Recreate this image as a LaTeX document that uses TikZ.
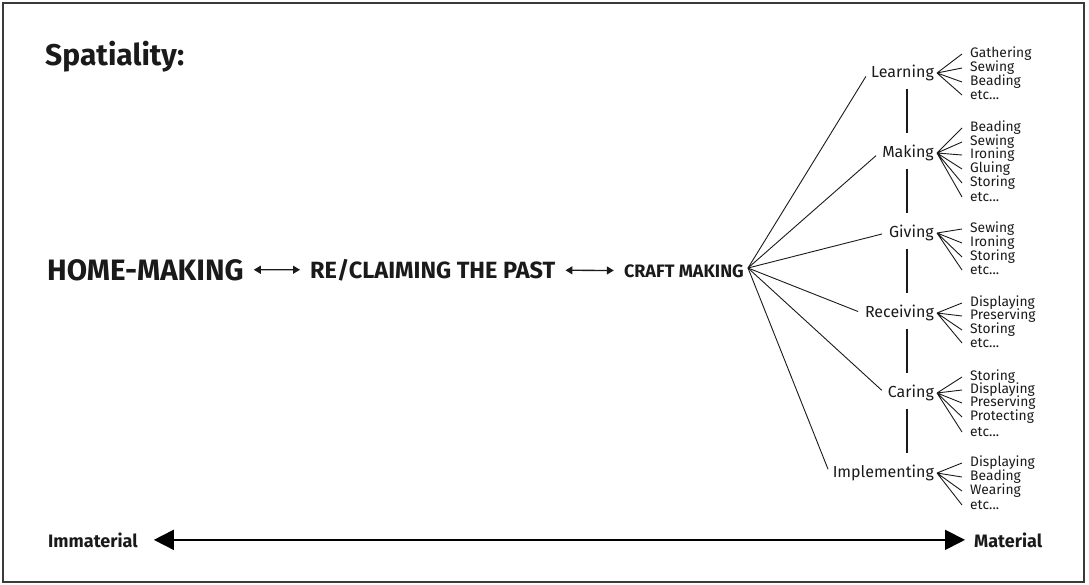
\documentclass[tikz,border=0pt]{standalone}
\usepackage{fontspec}
\setmainfont{Fira Sans}
\usepackage{tikz}
\usetikzlibrary{arrows.meta, positioning, calc}
\definecolor{spframe}{HTML}{3A3A3A}
\definecolor{spink}{HTML}{1A1A1A}

\begin{document}
\begin{tikzpicture}[
      x=1pt, y=-1pt,
      big/.style={inner sep=0pt, text=spink, font=\bfseries\fontsize{#1}{#1}\selectfont},
      cat/.style={anchor=east, inner sep=3pt, text=spink, font=\fontsize{16}{16}\selectfont},
      item/.style={anchor=west, inner xsep=8pt, inner ysep=0pt, text=spink, font=\fontsize{13.8}{13.8}\selectfont},
      e/.style={line width=0.9pt, spink},
      espine/.style={line width=1.1pt, spink, shorten <=5pt, shorten >=9pt},
      link/.style={line width=1.3pt, spink, {Triangle[length=7pt, width=8pt]}-{Triangle[length=7pt, width=8pt]}, shorten <=10pt, shorten >=10pt},
      spanline/.style={line width=1.8pt, black, {Triangle[length=20pt, width=20pt]}-{Triangle[length=20pt, width=20pt]}, shorten <=16pt, shorten >=9pt}
    ]
      \useasboundingbox (0,0) rectangle (1089,584);
      \draw[line width=2pt, spframe] (3,3) rectangle (1084,582);

      \node[big=30, anchor=base west] (title) at (45,65) {Spatiality:};

      \node[big=29.5, anchor=base west] (home) at (47,280) {HOME-MAKING};
      \node[big=23.5, anchor=base west] (reclaim) at (310,278) {RE/CLAIMING THE PAST};
      \node[big=18, anchor=base east] (craft) at (744,277) {CRAFT MAKING};
      \coordinate (hub) at (748,268);
      \coordinate (spine) at (907,0);

      \draw[link] (home) -- (reclaim);
      \draw[link] (reclaim) -- (craft);

      % activities
      \node[cat] (learn) at (937,73) {Learning};
      \node[cat] (make) at (937,153) {Making};
      \node[cat] (give) at (937,233) {Giving};
      \node[cat] (receive) at (937,313) {Receiving};
      \node[cat] (care) at (937,393) {Caring};
      \node[cat] (implement) at (937,473) {Implementing};

      \draw[e, shorten >=4pt] (hub) -- (learn.west);
      \draw[e, shorten >=4pt] (hub) -- (make.west);
      \draw[e, shorten >=4pt] (hub) -- (give.west);
      \draw[e, shorten >=4pt] (hub) -- (receive.west);
      \draw[e, shorten >=4pt] (hub) -- (care.west);
      \draw[e, shorten >=4pt] (hub) -- (implement.west);

      \draw[espine] (learn.south -| spine) -- (make.north -| spine);
      \draw[espine] (make.south -| spine) -- (give.north -| spine);
      \draw[espine] (give.south -| spine) -- (receive.north -| spine);
      \draw[espine] (receive.south -| spine) -- (care.north -| spine);
      \draw[espine] (care.south -| spine) -- (implement.north -| spine);

      % practices
      \node[item] (l1) at (962,54) {Gathering};
      \node[item] (l2) at (962,68) {Sewing};
      \node[item] (l3) at (962,82) {Beading};
      \node[item] (l4) at (962,95) {etc...};

      \node[item] (m1) at (962,128) {Beading};
      \node[item] (m2) at (962,142) {Sewing};
      \node[item] (m3) at (962,155) {Ironing};
      \node[item] (m4) at (962,169) {Gluing};
      \node[item] (m5) at (962,183) {Storing};
      \node[item] (m6) at (962,197) {etc...};

      \node[item] (g1) at (962,229) {Sewing};
      \node[item] (g2) at (962,243) {Ironing};
      \node[item] (g3) at (962,257) {Storing};
      \node[item] (g4) at (962,270) {etc...};

      \node[item] (r1) at (962,303) {Displaying};
      \node[item] (r2) at (962,316) {Preserving};
      \node[item] (r3) at (962,330) {Storing};
      \node[item] (r4) at (962,343) {etc...};

      \node[item] (c1) at (962,377) {Storing};
      \node[item] (c2) at (962,390) {Displaying};
      \node[item] (c3) at (962,403) {Preserving};
      \node[item] (c4) at (962,417) {Protecting};
      \node[item] (c5) at (962,432) {etc...};

      \node[item] (i1) at (962,463) {Displaying};
      \node[item] (i2) at (962,477) {Beading};
      \node[item] (i3) at (962,491) {Wearing};
      \node[item] (i4) at (962,505) {etc...};

      \draw[e] (learn.east) -- (l1.west) (learn.east) -- (l2.west) (learn.east) -- (l3.west) (learn.east) -- (l4.west);
      \draw[e] (make.east) -- (m1.west) (make.east) -- (m2.west) (make.east) -- (m3.west) (make.east) -- (m4.west) (make.east) -- (m5.west) (make.east) -- (m6.west);
      \draw[e] (give.east) -- (g1.west) (give.east) -- (g2.west) (give.east) -- (g3.west) (give.east) -- (g4.west);
      \draw[e] (receive.east) -- (r1.west) (receive.east) -- (r2.west) (receive.east) -- (r3.west) (receive.east) -- (r4.west);
      \draw[e] (care.east) -- (c1.west) (care.east) -- (c2.west) (care.east) -- (c3.west) (care.east) -- (c4.west) (care.east) -- (c5.west);
      \draw[e] (implement.east) -- (i1.west) (implement.east) -- (i2.west) (implement.east) -- (i3.west) (implement.east) -- (i4.west);

      % scale
      \node[big=18, anchor=base west] (immaterial) at (48,547) {Immaterial};
      \node[big=18, anchor=base west] (material) at (974,547) {Material};
      \draw[spanline] (immaterial) -- (material);
    \end{tikzpicture}
\end{document}
